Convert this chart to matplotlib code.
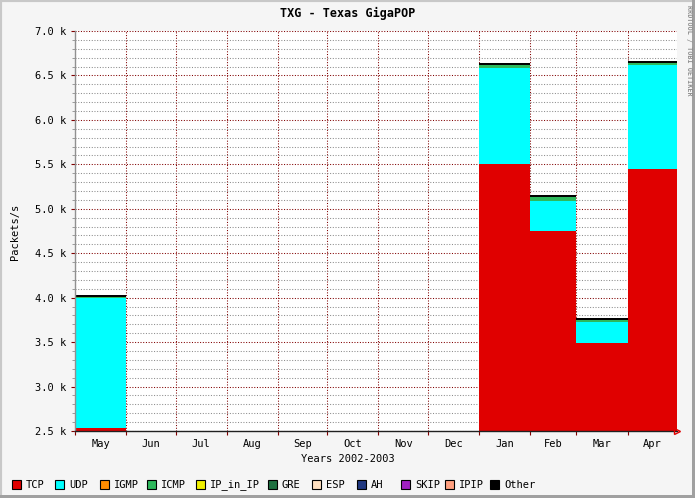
import matplotlib
matplotlib.use("Agg")
import matplotlib.pyplot as plt
import matplotlib.dates as mdates
import numpy as np
import datetime as dt

# month starts (bar edges), Jun-Dec 2002 has no data
month_starts = ["2002-05-01", "2002-06-01", "2002-07-01", "2002-08-01", "2002-09-01",
                "2002-10-01", "2002-11-01", "2002-12-01", "2003-01-01", "2003-02-01",
                "2003-03-01", "2003-04-01", "2003-05-01"]
month_labels = ["May", "Jun", "Jul", "Aug", "Sep", "Oct", "Nov", "Dec",
                "Jan", "Feb", "Mar", "Apr"]

nan = np.nan
tcp = [2537, nan, nan, nan, nan, nan, nan, nan, 5500, 4750, 3486, 5447]
udp = [1459, nan, nan, nan, nan, nan, nan, nan, 1087, 341, 244, 1167]
igmp = [0, nan, nan, nan, nan, nan, nan, nan, 0, 0, 0, 0]
icmp = [15, nan, nan, nan, nan, nan, nan, nan, 27, 41, 22, 22]
ip_in_ip = [0, nan, nan, nan, nan, nan, nan, nan, 0, 0, 0, 0]
gre = [0, nan, nan, nan, nan, nan, nan, nan, 0, 0, 0, 0]
esp = [0, nan, nan, nan, nan, nan, nan, nan, 0, 0, 0, 0]
ah = [0, nan, nan, nan, nan, nan, nan, nan, 0, 0, 0, 0]
skip = [0, nan, nan, nan, nan, nan, nan, nan, 0, 0, 0, 0]
ipip = [0, nan, nan, nan, nan, nan, nan, nan, 0, 0, 0, 0]
other = [19, nan, nan, nan, nan, nan, nan, nan, 26, 23, 23, 26]

series = [
    ("TCP", tcp, "#E00000"),
    ("UDP", udp, "#00FFFF"),
    ("IGMP", igmp, "#FF8C00"),
    ("ICMP", icmp, "#2EB85C"),
    ("IP_in_IP", ip_in_ip, "#F0F000"),
    ("GRE", gre, "#1E7040"),
    ("ESP", esp, "#FFE0C0"),
    ("AH", ah, "#203880"),
    ("SKIP", skip, "#A020C0"),
    ("IPIP", ipip, "#FFA080"),
    ("Other", other, "#000000"),
]

mono = "DejaVu Sans Mono"
plt.rcParams["font.family"] = mono
plt.rcParams["font.size"] = 7.5

W, H = 695, 498
fig = plt.figure(figsize=(W / 100, H / 100), dpi=100, facecolor="#F5F5F5")
ax = fig.add_axes([75 / W, 1 - 431 / H, 602 / W, 400 / H])
ax.set_facecolor("white")

edges = [mdates.date2num(dt.date.fromisoformat(s)) for s in month_starts]
starts = np.array(edges[:-1])
widths = np.diff(edges)

bottom = np.zeros(len(tcp))
for name, vals, col in series:
    v = np.array(vals, dtype=float)
    ok = ~np.isnan(v)
    ax.bar(starts[ok], v[ok], width=widths[ok], bottom=bottom[ok], align="edge",
           color=col, linewidth=0, zorder=2)
    bottom = bottom + np.nan_to_num(v)

ax.set_xlim(edges[0], edges[-1])
ax.set_ylim(2500, 7000)

# grid
ax.set_yticks(np.arange(2500, 7001, 500))
ax.set_yticks(np.arange(2500, 7001, 100), minor=True)
ax.set_yticklabels(["%.1f k" % (t / 1000) for t in np.arange(2500, 7001, 500)])
ax.set_xticks(edges[:-1])
ax.set_xticklabels([])
mids = [(a + b) / 2 for a, b in zip(edges[:-1], edges[1:])]
ax.set_xticks(mids, minor=True)
ax.set_xticklabels(month_labels, minor=True)

dots = (0, (1, 1.6))
ax.set_axisbelow(True)
ax.grid(True, axis="y", which="minor", color="#8C8C8C", linestyle=dots, linewidth=0.75)
ax.grid(True, axis="y", which="major", color="#800000", linestyle=dots, linewidth=0.75)
ax.grid(True, axis="x", which="major", color="#800000", linestyle=dots, linewidth=0.75)

ax.tick_params(axis="y", which="major", length=3, color="#800000", labelsize=7.5, pad=3)
ax.tick_params(axis="y", which="minor", length=2, color="#8C8C8C")
ax.tick_params(axis="x", which="major", length=3, color="#800000")
ax.tick_params(axis="x", which="minor", length=0, labelsize=7.5, pad=6)

for s in ["top", "right"]:
    ax.spines[s].set_visible(False)
ax.spines["left"].set_color("#909090")
ax.spines["bottom"].set_color("#202020")
ax.spines["left"].set_linewidth(1)
ax.spines["bottom"].set_linewidth(1)
ax.spines["left"].set_zorder(4)
ax.spines["bottom"].set_zorder(4)

# arrow at end of x axis
ax.plot([1.0], [0], marker=">", markersize=5, markerfacecolor="none",
        markeredgecolor="#E00000", transform=ax.transAxes, clip_on=False, zorder=5)

fig.text(348 / W, 1 - 13 / H, "TXG - Texas GigaPOP", ha="center", va="center",
         fontsize=8.5, fontweight="bold")
fig.text(348 / W, 1 - 459 / H, "Years 2002-2003", ha="center", va="center", fontsize=7.5)
fig.text(15 / W, 1 - 232 / H, "Packets/s", ha="center", va="center", rotation=90, fontsize=7.5)
fig.text(689 / W, 1 - 5 / H, "RRDTOOL / TOBI OETIKER", ha="center", va="top",
         rotation=270, fontsize=4.9, color="#909090", fontweight="bold")

# legend
legend_x = [12, 55, 100, 147, 196, 268, 312, 357, 401, 445, 490]
for (name, vals, col), lx in zip(series, legend_x):
    fig.patches.append(plt.Rectangle((lx / W, 1 - 489 / H), 9 / W, 9 / H, transform=fig.transFigure,
                                     facecolor=col, edgecolor="black", linewidth=0.8))
    fig.text((lx + 14) / W, 1 - 484.5 / H, name, ha="left", va="center", fontsize=7.5)

# border
fig.patches.append(plt.Rectangle((0, 0), 1, 1, transform=fig.transFigure, fill=False,
                                 edgecolor="#C8C8C8", linewidth=3))
fig.patches.append(plt.Rectangle((1 - 3 / W, 0), 3 / W, 1, transform=fig.transFigure,
                                 facecolor="#A0A0A0", linewidth=0))
fig.patches.append(plt.Rectangle((0, 0), 1, 3 / H, transform=fig.transFigure,
                                 facecolor="#A0A0A0", linewidth=0))

fig.savefig("out.png", dpi=100, facecolor=fig.get_facecolor())
